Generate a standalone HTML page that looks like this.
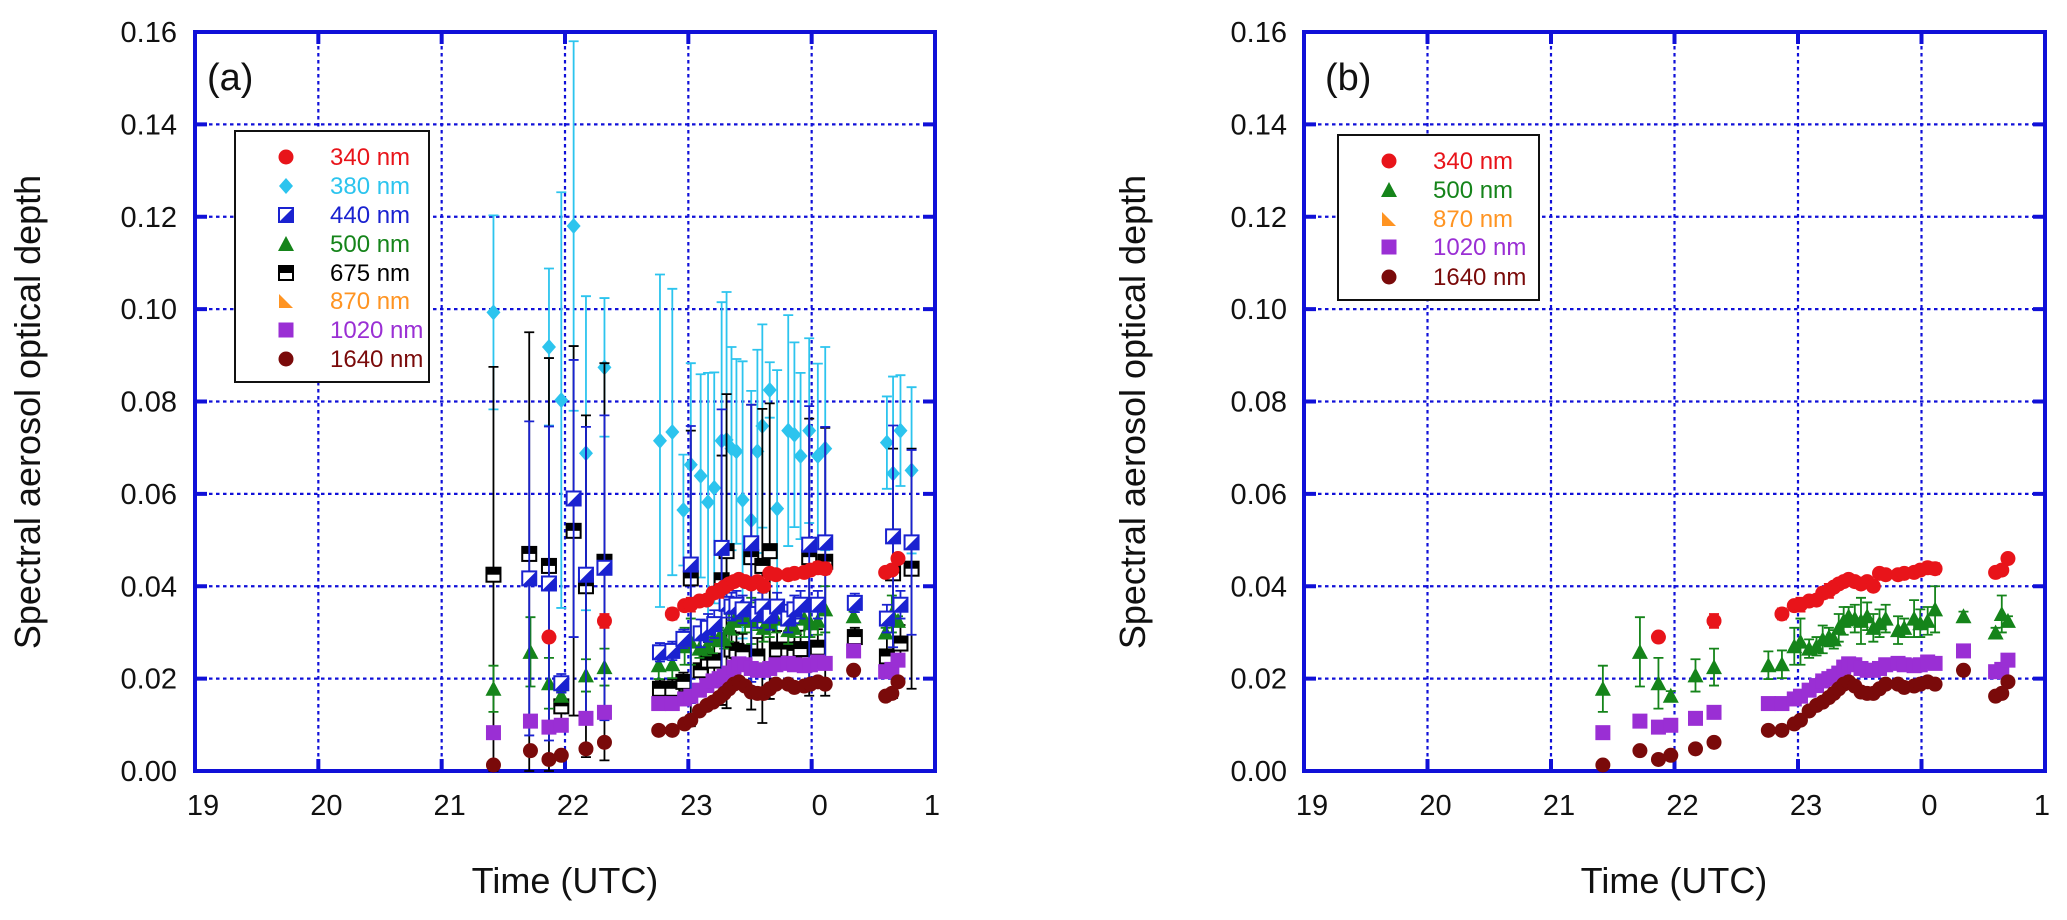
<!DOCTYPE html>
<html><head><meta charset="utf-8"><style>
html,body{margin:0;padding:0;background:#fff;}
svg{display:block;font-family:"Liberation Sans",Arial,sans-serif;}
</style></head><body>
<svg id="chart" width="2067" height="920" viewBox="0 0 2067 920" xmlns="http://www.w3.org/2000/svg"></svg>
<script>
// ---------- data ----------
const yTicks = [0, 0.02, 0.04, 0.06, 0.08, 0.10, 0.12, 0.14, 0.16];
const xTicks = [19, 20, 21, 22, 23, 24, 25];
const xTickLabels = ["19", "20", "21", "22", "23", "0", "1"];
// shared time grid (hours UTC, 24 = 0h next day)
const T = [21.42,21.72,21.87,21.97,22.17,22.32,22.76,22.87,22.97,23.02,23.09,23.15,23.20,23.25,23.29,23.33,23.37,23.41,23.46,23.51,23.56,23.61,23.66,23.71,23.81,23.86,23.94,23.99,24.05,24.11,24.34,24.60,24.65,24.70];
const v340 = [null,null,0.029,null,null,0.0325,null,0.034,0.0358,0.036,0.0368,0.037,0.0385,0.039,0.0398,0.0405,0.041,0.0415,0.041,0.0405,0.041,0.040,0.0428,0.0425,0.0425,0.0428,0.043,0.0435,0.044,0.0438,null,0.043,0.0435,0.046];
const e340 = [0,0,0.001,0,0,0.0015,0,0.0012,0.001,0.0015,0.001,0.001,0.0012,0.0015,0.001,0.001,0.001,0.001,0.001,0.001,0.001,0.001,0.001,0.001,0.001,0.001,0.001,0.001,0.0012,0.0012,0,0.001,0.001,0.001];
const v500 = [0.0178,0.0258,0.019,0.0163,0.0207,0.0225,0.0229,0.0231,0.027,0.028,0.0265,0.027,0.0285,0.029,0.0285,0.031,0.0325,0.0335,0.033,0.0325,0.0335,0.031,0.032,0.033,0.0305,0.031,0.033,0.032,0.0325,0.035,0.0335,0.030,0.034,0.0325];
const e500 = [0.005,0.0075,0.0055,0.001,0.0035,0.004,0.003,0.003,0.004,0.005,0.002,0.002,0.003,0.002,0.002,0.003,0.003,0.002,0.003,0.005,0.003,0.003,0.003,0.003,0.003,0.002,0.004,0.003,0.003,0.005,0.001,0.001,0.004,0.001];
const v1020 = [0.0083,0.0108,0.0095,0.0099,0.0114,0.0127,0.0146,0.0146,0.0156,0.0162,0.0175,0.0185,0.0195,0.0200,0.0205,0.0212,0.0225,0.0232,0.0230,0.0222,0.0218,0.0218,0.0222,0.0230,0.0233,0.0230,0.0228,0.0230,0.0236,0.0233,0.0260,0.0215,0.0220,0.0240];
const v1640 = [0.0013,0.0044,0.0025,0.0034,0.0048,0.0062,0.0088,0.0088,0.0102,0.0110,0.0130,0.0142,0.0149,0.0159,0.0168,0.0178,0.0188,0.0193,0.0184,0.0171,0.0168,0.0168,0.0178,0.0188,0.0188,0.0181,0.0184,0.0188,0.0193,0.0188,0.0218,0.0162,0.0168,0.0193];
// panel (a) only series
const T380 = [21.42,21.87,21.97,22.07,22.17,22.32,22.77,22.87,22.96,23.02,23.10,23.16,23.21,23.27,23.31,23.35,23.39,23.44,23.51,23.56,23.60,23.66,23.72,23.81,23.86,23.91,23.98,24.05,24.11,24.61,24.66,24.72,24.81];
const v380 = [0.0993,0.0918,0.0803,0.118,0.0688,0.0874,0.0715,0.0734,0.0565,0.0663,0.0639,0.0582,0.0613,0.0715,0.0717,0.0698,0.0692,0.0587,0.0543,0.0692,0.0747,0.0825,0.0568,0.0737,0.0728,0.0682,0.0737,0.0682,0.0698,0.0711,0.0644,0.0737,0.0651];
const e380 = [0.021,0.017,0.045,0.04,0.034,0.015,0.036,0.031,0.012,0.022,0.022,0.028,0.025,0.03,0.032,0.022,0.02,0.03,0.028,0.022,0.022,0.006,0.03,0.025,0.02,0.018,0.02,0.02,0.022,0.01,0.021,0.012,0.018];
const T440 = [21.71,21.87,21.97,22.07,22.17,22.32,22.77,22.87,22.96,23.02,23.10,23.16,23.21,23.27,23.31,23.35,23.39,23.44,23.51,23.56,23.60,23.66,23.72,23.81,23.86,23.91,23.98,24.05,24.11,24.35,24.61,24.66,24.72,24.81];
const v440 = [0.0417,0.0406,0.019,0.059,0.0425,0.044,0.0257,0.026,0.0286,0.0447,0.0298,0.031,0.0318,0.0483,0.0362,0.0356,0.036,0.035,0.0493,0.034,0.0356,0.0336,0.0356,0.033,0.035,0.036,0.049,0.036,0.0495,0.0364,0.033,0.0508,0.036,0.0495];
const e440 = [0.034,0.034,0.002,0.03,0.032,0.033,0.002,0.002,0.002,0.03,0.003,0.003,0.003,0.03,0.003,0.003,0.003,0.003,0.03,0.003,0.003,0.003,0.003,0.003,0.003,0.003,0.03,0.003,0.025,0.002,0.003,0.024,0.003,0.02];
const T675 = [21.42,21.71,21.87,21.97,22.07,22.17,22.32,22.77,22.87,22.96,23.02,23.10,23.16,23.21,23.27,23.31,23.35,23.39,23.44,23.51,23.56,23.60,23.66,23.72,23.81,23.86,23.91,23.98,24.05,24.11,24.35,24.61,24.66,24.72,24.81];
const v675 = [0.0425,0.047,0.0444,0.014,0.052,0.040,0.0453,0.0178,0.0178,0.0193,0.0417,0.0218,0.0239,0.0239,0.0413,0.0476,0.0263,0.026,0.0257,0.0463,0.0248,0.0444,0.0476,0.0263,0.0263,0.026,0.0264,0.0463,0.0267,0.0453,0.029,0.0248,0.0428,0.0276,0.0438];
const e675 = [0.045,0.048,0.045,0.003,0.04,0.037,0.043,0.002,0.002,0.002,0.032,0.004,0.004,0.004,0.027,0.034,0.004,0.004,0.004,0.033,0.004,0.034,0.032,0.004,0.004,0.004,0.004,0.03,0.004,0.029,0.002,0.004,0.027,0.004,0.026];

// ---------- helpers ----------
const NS = "http://www.w3.org/2000/svg";
const svg = document.getElementById("chart");
function mk(tag, attrs, parent) {
  const e = document.createElementNS(NS, tag);
  for (const k in attrs) e.setAttribute(k, attrs[k]);
  (parent || svg).appendChild(e);
  return e;
}
const Y0 = 771, Y1 = 32;
function yS(v) { return Y0 - v / 0.16 * (Y0 - Y1); }
function makeX(left, right) { return h => left + (h - 19) * (right - left) / 6; }

const C = {c340:"#e8141a", c380:"#2cc4ee", c440:"#1a22d0", c500:"#15841a", c675:"#000000", c870:"#ff9422", c1020:"#9a2fd4", c1640:"#7a0a0a"};

function marker(g, type, x, y, col) {
  let m;
  if (type === "circle") m = mk("circle", {cx:x, cy:y, r:7.5, fill:col}, g);
  else if (type === "diamond") m = mk("polygon", {points:`${x},${y-8} ${x+7},${y} ${x},${y+8} ${x-7},${y}`, fill:col}, g);
  else if (type === "tri") m = mk("polygon", {points:`${x},${y-8} ${x+8},${y+7} ${x-8},${y+7}`, fill:col}, g);
  else if (type === "square") m = mk("rect", {x:x-7.5, y:y-7.5, width:15, height:15, fill:col}, g);
  else if (type === "rtri") m = mk("polygon", {points:`${x-7},${y-7} ${x+7},${y+7} ${x-7},${y+7}`, fill:col}, g);
  else if (type === "half440") {
    m = mk("g", {}, g);
    mk("rect", {x:x-7, y:y-7, width:14, height:14, fill:"#fff", stroke:col, "stroke-width":2}, m);
    mk("polygon", {points:`${x+7},${y-7} ${x+7},${y+7} ${x-7},${y+7}`, fill:col}, m);
  } else if (type === "half675") {
    m = mk("g", {}, g);
    mk("rect", {x:x-7, y:y-7, width:14, height:14, fill:"#fff", stroke:col, "stroke-width":2}, m);
    mk("rect", {x:x-7, y:y-7, width:14, height:7, fill:col}, m);
  }
  
  
  return m;
}
function errbar(g, x, v, e, col, w) {
  if (!e) return;
  const ya = yS(v + e), yb = yS(Math.max(0, v - e));
  const p = mk("path", {d:`M${x},${ya}V${yb}M${x-5},${ya}H${x+5}M${x-5},${yb}H${x+5}`, stroke:col, "stroke-width":w || 1.8, fill:"none"}, g);
  
  
}
function series(g, xS, times, vals, errs, type, col, ecol, name) {
  const s = mk("g", {}, g);
  
  
  if (errs) times.forEach((t, i) => { if (vals[i] != null) errbar(s, xS(t), vals[i], errs[i], ecol || col); });
  times.forEach((t, i) => { if (vals[i] != null) marker(s, type, xS(t), yS(vals[i]), col); });
}

function axes(left, right, tag, ylabX, tlabX, labRight, panelLabelX) {
  const xS = makeX(left, right);
  const g = mk("g", {});
  
  
  yTicks.forEach(v => {
    if (v === 0 || v === 0.16) return;
    const l = mk("line", {x1:left, x2:right, y1:yS(v), y2:yS(v), stroke:"#1010d8", "stroke-width":2.2, "stroke-dasharray":"3.5,3.5"}, g);
    
    
    mk("path", {d:`M${left},${yS(v)}h12M${right},${yS(v)}h-12`, stroke:"#1010d8", "stroke-width":4}, g);
  });
  xTicks.forEach(h => {
    if (h === 19 || h === 25) return;
    const l = mk("line", {x1:xS(h), x2:xS(h), y1:Y1, y2:Y0, stroke:"#1010d8", "stroke-width":2.2, "stroke-dasharray":"3.5,3.5"}, g);
    
    
    mk("path", {d:`M${xS(h)},${Y0}v-12M${xS(h)},${Y1}v12`, stroke:"#1010d8", "stroke-width":4}, g);
  });
  const fr = mk("rect", {x:left, y:Y1, width:right-left, height:Y0-Y1, fill:"none", stroke:"#1010d8", "stroke-width":4}, g);
  
  
  yTicks.forEach(v => {
    const t = mk("text", {x:labRight, y:yS(v)+10, "text-anchor":"end", "font-size":29, fill:"#111"}, g);
    t.textContent = v.toFixed(2);
    
    
  });
  xTicks.forEach((h, i) => {
    const t = mk("text", {x:xS(h) + (i === 6 ? -3 : 8), y:815, "text-anchor":"middle", "font-size":29, fill:"#111"}, g);
    t.textContent = xTickLabels[i];
    
    
  });
  const yl = mk("text", {x:ylabX, y:412, "text-anchor":"middle", "font-size":36, fill:"#111", transform:`rotate(-90 ${ylabX} 412)`}, g);
  yl.textContent = "Spectral aerosol optical depth";
  
  
  const xl = mk("text", {x:tlabX, y:893, "text-anchor":"middle", "font-size":36, fill:"#111"}, g);
  xl.textContent = "Time (UTC)";
  
  
  const pl = mk("text", {x:panelLabelX, y:90, "font-size":38, fill:"#111"}, g);
  pl.textContent = "(" + tag + ")";
  
  
  return {xS, g};
}

function legend(x0, y0, w, h, markX, textX, rowY, entries) {
  const g = mk("g", {});
  
  
  mk("rect", {x:x0, y:y0, width:w, height:h, fill:"#fff", stroke:"#111", "stroke-width":2}, g);
  entries.forEach((e, i) => {
    const eg = mk("g", {}, g);
    
    
    marker(eg, e[1], markX, rowY[i], e[2]);
    const t = mk("text", {x:textX, y:rowY[i] + 8, "font-size":24, fill:e[2]}, eg);
    t.textContent = e[0];
  });
}

// ---------- panel (a) ----------
const A = axes(195, 935, "a", 40, 565, 177, 207);
series(A.g, A.xS, T380, v380, e380, "diamond", C.c380, C.c380, "series-380nm");
series(A.g, A.xS, T675, v675, e675, "half675", C.c675, "#000", "series-675nm");
series(A.g, A.xS, T, v500, e500, "tri", C.c500, C.c500, "series-500nm");
series(A.g, A.xS, T440, v440, e440, "half440", C.c440, C.c440, "series-440nm");
series(A.g, A.xS, T, v340, e340, "circle", C.c340, C.c340, "series-340nm");
series(A.g, A.xS, T, v1020, null, "rtri", C.c870, null, "series-870nm");
series(A.g, A.xS, T, v1020, null, "square", C.c1020, null, "series-1020nm");
series(A.g, A.xS, T, v1640, null, "circle", C.c1640, null, "series-1640nm");
legend(235, 131, 194, 251, 286, 330, [157,186,215,244,273,301,330,359], [
  ["340 nm","circle",C.c340],["380 nm","diamond",C.c380],["440 nm","half440",C.c440],["500 nm","tri",C.c500],
  ["675 nm","half675",C.c675],["870 nm","rtri",C.c870],["1020 nm","square",C.c1020],["1640 nm","circle",C.c1640]]);

// ---------- panel (b) ----------
const B = axes(1304, 2045, "b", 1145, 1674, 1287, 1325);
series(B.g, B.xS, T, v500, e500, "tri", C.c500, C.c500, "series-500nm");
series(B.g, B.xS, T, v340, e340, "circle", C.c340, C.c340, "series-340nm");
series(B.g, B.xS, T, v1020, null, "rtri", C.c870, null, "series-870nm");
series(B.g, B.xS, T, v1020, null, "square", C.c1020, null, "series-1020nm");
series(B.g, B.xS, T, v1640, null, "circle", C.c1640, null, "series-1640nm");
legend(1338, 135, 201, 165, 1389, 1433, [161,190,219,247,277], [
  ["340 nm","circle",C.c340],["500 nm","tri",C.c500],["870 nm","rtri",C.c870],["1020 nm","square",C.c1020],["1640 nm","circle",C.c1640]]);
</script>
</body></html>
